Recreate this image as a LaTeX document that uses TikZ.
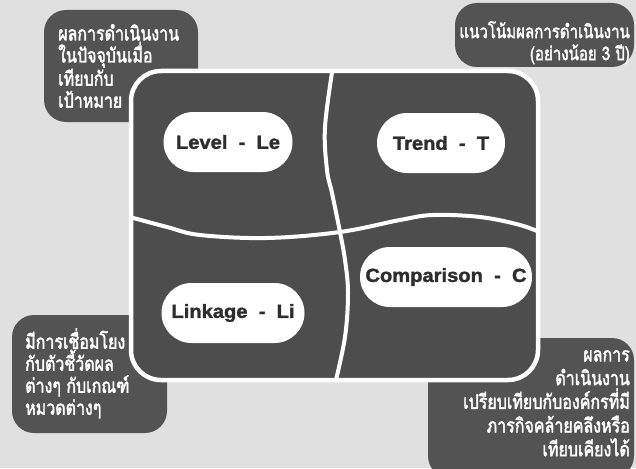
\documentclass[tikz,border=0pt]{standalone}
\usepackage{fontspec}
\setmainfont{Liberation Sans}
\newfontfamily\thaifont[Script=Thai, FakeStretch=0.8, FakeBold=2]{Loma}
\newfontfamily\pillfont[FakeBold=1.6, FakeStretch=1.06]{Liberation Sans Bold}
\begin{document}
\begin{tikzpicture}[x=1pt,y=-1pt]
\definecolor{paper}{HTML}{E0E0E0}
\definecolor{panel}{HTML}{4D4D4D}
\definecolor{notegray}{HTML}{535353}
\definecolor{ink}{HTML}{2E2E2E}
\tikzset{
  notebox/.style={fill=notegray, rounded corners=22pt},
  thainote/.style={text=white, inner sep=0pt, font=\thaifont\fontsize{20}{22}\selectfont},
  pill/.style={fill=white, rounded corners=30pt, minimum height=60pt, inner sep=0pt,
    text=ink, font=\pillfont\fontsize{19}{19}\selectfont},
  divider/.style={white, line width=4pt}
}
\useasboundingbox (0,0) rectangle (636,468);
\fill[paper] (0,0) rectangle (636,468);

% corner notes
\fill[notebox] (44,10) rectangle (198,122);
\fill[notebox] (455,3) rectangle (634,67);
\fill[notebox] (12,315) rectangle (167,433);
\fill[notebox] (428,338) rectangle (634,478);

\node[thainote, anchor=north west, align=left] (tl) at (58,24)
  {ผลการดำเนินงาน\\ในปัจจุบันเมื่อ\\เทียบกับ\\เป้าหมาย};
\node[thainote, anchor=north east, align=right,
      font=\thaifont\fontsize{18.8}{22}\selectfont] (tr) at (630,21)
  {แนวโน้มผลการดำเนินงาน\\(อย่างน้อย 3 ปี)};
\node[thainote, anchor=north west, align=left] (bl) at (25,328)
  {มีการเชื่อมโยง\\กับตัวชี้วัดผล\\ต่างๆ กับเกณฑ์\\หมวดต่างๆ};
\node[thainote, anchor=north east, align=right,
      font=\thaifont\fontsize{20}{23.7}\selectfont] (br) at (630,350)
  {ผลการ\\ดำเนินงาน\\เปรียบเทียบกับองค์กรที่มี\\ภารกิจคล้ายคลึงหรือ\\เทียบเคียงได้};

% central panel
\draw[white, line width=4.5pt, fill=panel, rounded corners=30pt] (131,71) rectangle (538,380);
\begin{scope}
  \clip[rounded corners=28pt] (131,71) rectangle (538,380);
  \draw[divider] plot[smooth, tension=0.6] coordinates
    {(333,66) (325,127) (327,170) (332,193) (340,232) (345,260) (348,293) (345,337) (335,384)};
  \draw[divider] plot[smooth, tension=0.6] coordinates
    {(126,216) (167,227) (200,235) (267,238) (340,232) (400,220) (433,215) (480,217) (520,225) (544,234)};
\end{scope}

% quadrant labels
\node[pill, minimum width=129pt] (le) at (228,142) {Level~~-~~Le};
\node[pill, minimum width=128pt] (t) at (441,143) {Trend~~-~~T};
\node[pill, minimum width=172pt] (c) at (446,277) {Comparison~~-~~C};
\node[pill, minimum width=143pt] (li) at (233,313) {Linkage~~-~~Li};
\end{tikzpicture}
\end{document}
